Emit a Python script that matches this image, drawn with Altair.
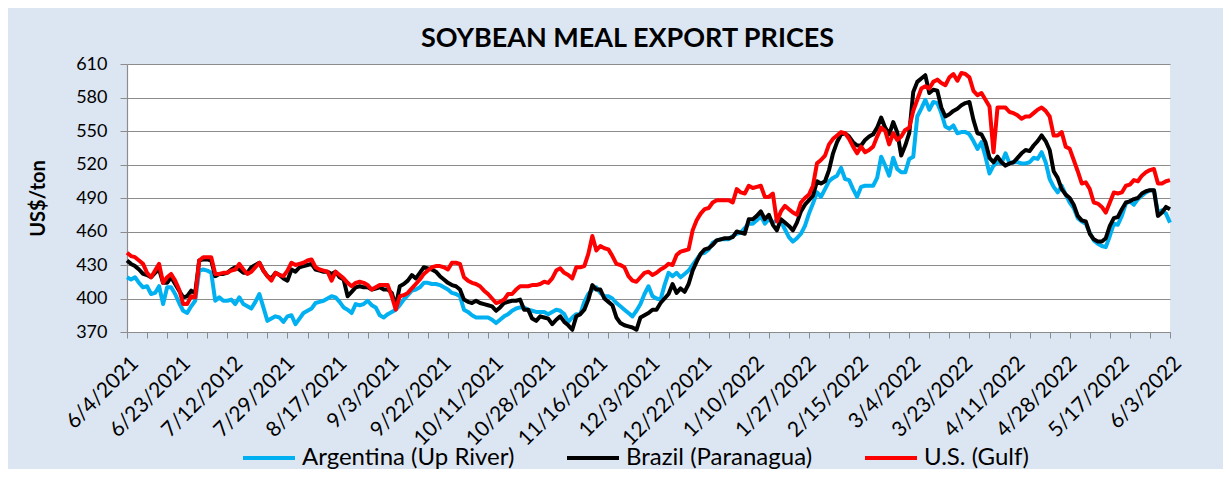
import json
import altair as alt
import pandas as pd

# ---- data (one value per business day) ----
date_labels = ["6/4/2021", "6/23/2021", "7/12/2012", "7/29/2021", "8/17/2021", "9/3/2021",
               "9/22/2021", "10/11/2021", "10/28/2021", "11/16/2021", "12/3/2021",
               "12/22/2021", "1/10/2022", "1/27/2022", "2/15/2022", "3/4/2022",
               "3/23/2022", "4/11/2022", "4/28/2022", "5/17/2022", "6/3/2022"]

series_names = ["Argentina (Up River)", "Brazil (Paranagua)", "U.S. (Gulf)"]
series_colors = ["#00B0F0", "#000000", "#FF0000"]

argentina = [
    419, 417, 419, 414, 410, 411, 404, 405, 411, 395,
    410, 410, 404, 396, 389, 387, 393, 398, 425, 426,
    425, 423, 398, 401, 398, 398, 399, 395, 401, 395,
    393, 391, 397, 404, 392, 380, 382, 384, 383, 379,
    384, 385, 377, 382, 387, 389, 391, 396, 397, 398,
    400, 402, 401, 397, 392, 390, 387, 395, 394, 395,
    398, 394, 392, 385, 383, 386, 388, 390, 394, 399,
    403, 407, 408, 410, 414, 414, 413, 413, 412, 410,
    408, 405, 404, 402, 390, 388, 385, 383, 383, 383,
    383, 381, 378, 381, 384, 386, 389, 391, 392, 392,
    390, 389, 388, 388, 388, 386, 388, 390, 389, 386,
    379, 383, 386, 386, 397, 404, 408, 410, 405, 402,
    402, 400, 396, 393, 390, 387, 384, 389, 395, 404,
    411, 402, 400, 399, 412, 423, 420, 423, 419, 422,
    425, 430, 435, 440, 441, 444, 450, 452, 453, 453,
    453, 456, 458, 459, 463, 467, 467, 470, 474, 467,
    471, 468, 470, 469, 462, 455, 451, 454, 458, 465,
    476, 485, 495, 491, 498, 505, 508, 510, 517, 507,
    506, 498, 491, 500, 501, 501, 501, 508, 527, 519,
    510, 526, 516, 513, 513, 525, 527, 563, 570, 578,
    569, 576, 575, 566, 554, 552, 555, 548, 549, 549,
    547, 541, 534, 540, 527, 512, 519, 522, 521, 530,
    521, 522, 522, 521, 521, 522, 526, 525, 531, 522,
    507, 500, 495, 501, 493, 486, 481, 472, 469, 467,
    459, 452, 449, 447, 446, 456, 467, 466, 474, 485,
    487, 484, 489, 492, 495, 497, 497, 477, 479, 476,
    468]

brazil = [
    434, 431, 429, 426, 422, 421, 419, 423, 426, 414,
    414, 419, 413, 407, 401, 402, 407, 405, 434, 435,
    435, 434, 420, 422, 422, 423, 426, 428, 426, 423,
    423, 428, 430, 432, 425, 420, 418, 423, 421, 418,
    416, 426, 424, 428, 429, 430, 431, 426, 425, 424,
    424, 422, 424, 419, 417, 402, 406, 410, 411, 410,
    410, 408, 409, 410, 408, 408, 405, 393, 411, 413,
    416, 421, 418, 423, 428, 427, 426, 424, 420, 417,
    414, 412, 411, 408, 399, 397, 396, 398, 396, 395,
    394, 393, 389, 392, 396, 397, 398, 398, 399, 390,
    390, 382, 380, 384, 383, 382, 377, 381, 384, 379,
    376, 372, 384, 386, 390, 399, 412, 408, 408, 400,
    397, 394, 383, 378, 376, 375, 374, 372, 383, 385,
    387, 390, 390, 396, 400, 404, 413, 405, 409, 406,
    413, 425, 433, 440, 444, 445, 448, 452, 453, 454,
    454, 455, 460, 459, 458, 471, 471, 474, 478, 471,
    475, 466, 461, 471, 468, 465, 461, 468, 478, 484,
    488, 492, 505, 503, 505, 515, 530, 540, 547, 548,
    545, 540, 537, 537, 542, 545, 547, 553, 562, 553,
    547, 558, 549, 528, 537, 548, 585, 594, 597, 600,
    584, 587, 586, 571, 563, 565, 568, 570, 573, 575,
    576, 560, 548, 547, 540, 526, 522, 527, 522, 519,
    521, 522, 526, 530, 533, 532, 537, 541, 546, 541,
    533, 514, 508, 498, 493, 490, 484, 474, 470, 469,
    458, 453, 451, 451, 454, 465, 472, 473, 480, 486,
    487, 489, 490, 494, 496, 497, 497, 474, 477, 482,
    480]

us_gulf = [
    441, 438, 437, 434, 431, 423, 419, 425, 431, 414,
    419, 422, 416, 408, 395, 395, 402, 401, 434, 437,
    437, 437, 422, 422, 423, 423, 425, 426, 431, 426,
    422, 424, 428, 432, 425, 420, 416, 423, 421, 420,
    425, 432, 430, 431, 432, 434, 435, 428, 426, 425,
    424, 416, 424, 421, 418, 414, 411, 414, 415, 414,
    412, 408, 410, 412, 412, 412, 402, 390, 402, 403,
    405, 409, 413, 417, 422, 425, 428, 429, 429, 428,
    426, 432, 432, 431, 419, 416, 414, 413, 411, 407,
    404, 400, 396, 397, 399, 404, 404, 408, 411, 411,
    411, 412, 412, 413, 415, 414, 418, 425, 427, 423,
    421, 418, 428, 428, 429, 440, 456, 443, 447, 445,
    444, 438, 431, 430, 428, 420, 416, 415, 419, 423,
    424, 421, 423, 426, 428, 431, 430, 439, 442, 443,
    444, 461, 470, 476, 480, 481, 486, 488, 488, 488,
    488, 486, 498, 495, 494, 501, 499, 500, 501, 491,
    491, 494, 469, 478, 483, 480, 477, 475, 486, 490,
    493, 501, 521, 524, 528, 538, 543, 546, 549, 548,
    543, 536, 530, 536, 531, 533, 536, 545, 553, 550,
    538, 548, 542, 545, 551, 553, 568, 578, 588, 590,
    588, 594, 596, 593, 591, 598, 601, 595, 602, 601,
    598, 586, 582, 584, 578, 572, 531, 571, 571, 571,
    567, 566, 564, 561, 563, 563, 566, 569, 571, 568,
    563, 546, 546, 549, 536, 534, 524, 514, 503, 504,
    498, 486, 485, 482, 477, 486, 495, 494, 495, 501,
    502, 506, 505, 510, 513, 515, 516, 503, 503, 505,
    506]

y_ticks = [370, 400, 430, 460, 490, 520, 550, 580, 610]

# ---- table ----
rows = []
for name, vals in zip(series_names, [argentina, brazil, us_gulf]):
    for i, v in enumerate(vals):
        rows.append({"idx": i, "price": v, "series": name})
df = pd.DataFrame(rows)

n_last = len(argentina) - 1
label_step = 13
tick_step = 5
x_values = sorted(set(range(0, n_last + 1, tick_step)) | set(range(0, n_last + 1, label_step)))
label_expr = ("datum.value % {s} === 0 ? {arr}[datum.value / {s}] : ''"
              .format(s=label_step, arr=json.dumps(date_labels)))

FONT = "Lato"
GRID = "#8C8C8C"

chart = alt.Chart(df).mark_line(strokeWidth=4, strokeJoin="round").encode(
    x=alt.X("idx:Q",
            scale=alt.Scale(domain=[0, n_last], nice=False, zero=False),
            axis=alt.Axis(values=x_values, labelExpr=label_expr, title=None, grid=False,
                          labelAngle=-45, labelAlign="right", labelBaseline="top",
                          labelFont=FONT, labelFontSize=21, labelColor="#000000",
                          labelPadding=14, labelOffset=0, labelOverlap=False, labelFlush=False,
                          labelBound=False,
                          tickSize=6, tickColor=GRID,
                          tickOpacity={"condition": {"test": "datum.value % 5 === 0", "value": 1}, "value": 0},
                          domainColor=GRID, domainWidth=1.2)),
    y=alt.Y("price:Q",
            scale=alt.Scale(domain=[370, 610], nice=False, zero=False),
            axis=alt.Axis(values=y_ticks, title="US$/ton", titleFont=FONT, titleFontSize=20,
                          titleFontWeight="bold", titleColor="#000000", titlePadding=27,
                          labelFont=FONT, labelFontSize=18, labelColor="#000000",
                          labelPadding=13, tickSize=7, tickColor=GRID,
                          gridColor=GRID, gridWidth=1.2, domainColor=GRID, domainWidth=1.2)),
    color=alt.Color("series:N",
                    scale=alt.Scale(domain=series_names, range=series_colors),
                    legend=alt.Legend(orient="none", legendX=114, legendY=366,
                                      direction="horizontal", title=None,
                                      symbolType="stroke", symbolSize=2704,
                                      symbolStrokeWidth=4, labelFont=FONT,
                                      labelFontSize=24, labelColor="#000000",
                                      labelLimit=0,
                                      columnPadding=44, labelOffset=5, padding=0)),
    order=alt.Order("idx:Q"),
).properties(
    width=1043,
    height=268,
    title=alt.Title("SOYBEAN MEAL EXPORT PRICES", font=FONT, fontSize=27, fontWeight="bold",
                    color="#000000", anchor="middle", dx=-21, dy=12, offset=14),
    autosize=alt.AutoSizeParams(type="none"),
    padding={"left": 119, "top": 56, "right": 53, "bottom": 137},
    background="#DCE6F2",
).configure_view(fill="#FFFFFF", stroke=None)

chart.save("out.html", embed_options={"renderer": "svg", "actions": False})
